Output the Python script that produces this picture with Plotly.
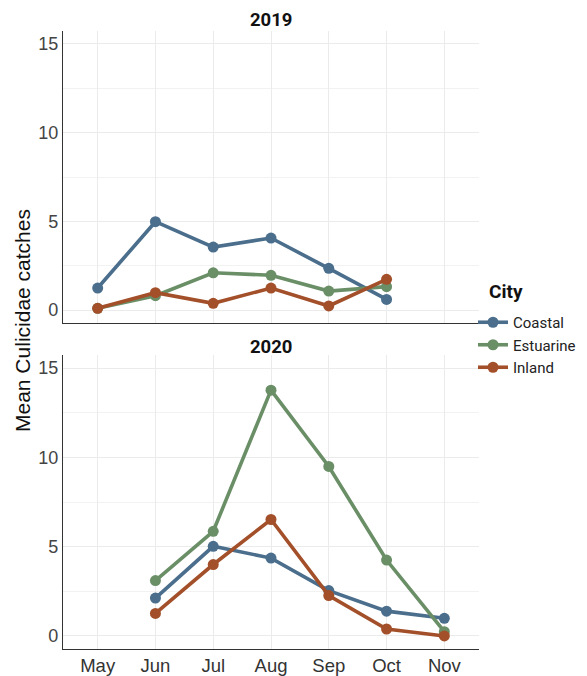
import plotly.graph_objects as go
from plotly.subplots import make_subplots

months = ["May", "Jun", "Jul", "Aug", "Sep", "Oct", "Nov"]
cities = ["Coastal", "Estuarine", "Inland"]
colors = {"Coastal": "#4A6E8C", "Estuarine": "#6A8F67", "Inland": "#A3502A"}

months_2019 = ["May", "Jun", "Jul", "Aug", "Sep", "Oct"]
coastal_2019 = [1.24, 4.98, 3.55, 4.06, 2.35, 0.60]
estuarine_2019 = [0.10, 0.81, 2.10, 1.96, 1.07, 1.32]
inland_2019 = [0.10, 0.98, 0.38, 1.24, 0.23, 1.73]

months_2020 = ["Jun", "Jul", "Aug", "Sep", "Oct", "Nov"]
coastal_2020 = [2.12, 5.02, 4.36, 2.54, 1.39, 0.99]
estuarine_2020 = [3.10, 5.86, 13.76, 9.49, 4.25, 0.24]
inland_2020 = [1.26, 4.00, 6.52, 2.26, 0.39, 0.00]

y_ticks = [0, 5, 10, 15]

# page body has an 8px margin; work in reference-pixel coordinates
OFF = 8
W, H = 587 - OFF, 676 - OFF
ml, mr, mt, mb = 63 - OFF, 0, 31 - OFF, 676 - 649
ph = H - mt - mb
pw = W - ml - mr

def py(p):
    return (H - mb - (p - OFF)) / ph

def px(p):
    return ((p - OFF) - ml) / pw

fig = make_subplots(rows=2, cols=1, shared_xaxes=True, vertical_spacing=0.05)

data = {
    2019: (months_2019, {"Coastal": coastal_2019, "Estuarine": estuarine_2019, "Inland": inland_2019}),
    2020: (months_2020, {"Coastal": coastal_2020, "Estuarine": estuarine_2020, "Inland": inland_2020}),
}

for row, year in [(1, 2019), (2, 2020)]:
    xs, series = data[year]
    for c in cities:
        fig.add_trace(go.Scatter(
            x=xs, y=series[c], mode="lines+markers", name=c,
            legendgroup=c, showlegend=(row == 1),
            line=dict(color=colors[c], width=3.6),
            marker=dict(color=colors[c], size=11),
        ), row=row, col=1)

fig.update_layout(
    width=W, height=H,
    margin=dict(l=ml, r=mr, t=mt, b=mb, autoexpand=False),
    paper_bgcolor="white", plot_bgcolor="white",
    font=dict(family="Liberation Sans, Arial, sans-serif", color="#333333"),
    legend=dict(
        font=dict(family="Roboto", size=15, color="#222222"),
        x=px(473), y=py(306), xanchor="left", yanchor="top",
        itemwidth=30, tracegroupgap=0, bgcolor="rgba(0,0,0,0)",
    ),
    showlegend=True,
)

x_dom = [0, px(479)]
fig.layout.xaxis.domain = x_dom
fig.layout.xaxis2.domain = x_dom
fig.layout.yaxis.domain = [py(323), py(31)]
fig.layout.yaxis2.domain = [py(649), py(355)]

for ax in ["xaxis", "xaxis2"]:
    fig.layout[ax].update(
        type="category", categoryorder="array", categoryarray=months,
        range=[-0.6, 6.6], showgrid=True, gridcolor="#EBEBEB", gridwidth=1,
        showline=True, linecolor="#333333", linewidth=1.2, zeroline=False,
        ticks="", tickfont=dict(size=18.5, color="#333333"), automargin=False,
    )
fig.layout.xaxis.showticklabels = False
fig.layout.xaxis2.showticklabels = True

for ax in ["yaxis", "yaxis2"]:
    fig.layout[ax].update(
        range=[-0.73, 15.73], tickvals=y_ticks, showgrid=True, gridcolor="#EBEBEB", gridwidth=1,
        minor=dict(dtick=2.5, tick0=0, showgrid=True, gridcolor="#F2F2F2", gridwidth=1),
        showline=True, linecolor="#333333", linewidth=1.2, zeroline=False,
        ticks="", tickfont=dict(size=18, color="#444444"), automargin=False,
    )

xc = px(271)
fig.add_annotation(text="<b>2019</b>", x=xc, y=py(20), xref="paper", yref="paper",
                   xanchor="center", yanchor="middle", showarrow=False,
                   font=dict(family="Roboto", size=18.5, color="#111111"))
fig.add_annotation(text="<b>2020</b>", x=xc, y=py(347), xref="paper", yref="paper",
                   xanchor="center", yanchor="middle", showarrow=False,
                   font=dict(family="Roboto", size=18.5, color="#111111"))
fig.add_annotation(text="<b>City</b>", x=px(487), y=py(291), xref="paper", yref="paper",
                   xanchor="left", yanchor="middle", showarrow=False,
                   font=dict(family="Roboto", size=19, color="#111111"))
fig.add_annotation(text="Mean Culicidae catches", x=px(22), y=py(321), xref="paper", yref="paper",
                   xanchor="center", yanchor="middle", showarrow=False, textangle=-90,
                   font=dict(family="Liberation Sans, Arial", size=21, color="#111111"))

fig.write_html("out.html")
